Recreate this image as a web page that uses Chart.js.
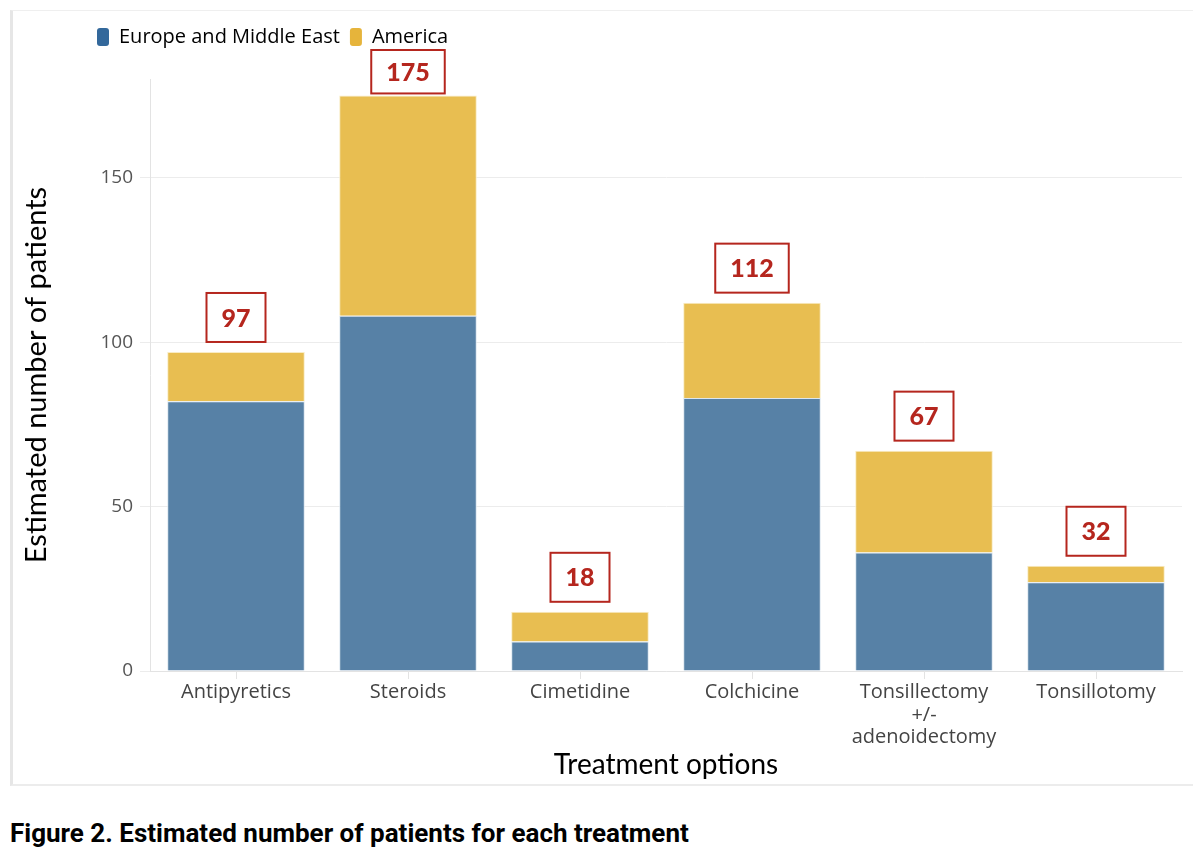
<!DOCTYPE html>
<html>
<head>
<meta charset="utf-8">
<script src="https://cdn.jsdelivr.net/npm/chart.js@4.4.1/dist/chart.umd.min.js"></script>
<style>
  body { margin: 0; background: #fff; width: 1193px; height: 860px; position: relative; overflow: hidden; }
  .frame { position: absolute; left: 10px; top: 10px; width: 1183px; height: 776px;
           border-left: 3px solid #e6e6e6; border-top: 1px solid #efefef; border-bottom: 2px solid #ececec; box-sizing: border-box; }
  #chart-wrap { position: absolute; left: 0; top: 0; width: 1193px; height: 790px; }
  .caption { position: absolute; left: 10px; top: 818px; font-family: Roboto, sans-serif; font-weight: 700;
             font-size: 26px; color: #000; white-space: nowrap; }
</style>
</head>
<body>
<div class="frame"></div>
<div id="chart-wrap"><canvas id="barChart" width="1193" height="790"></canvas></div>
<div class="caption">Figure 2. Estimated number of patients for each treatment</div>

<script>
const treatments = ["Antipyretics", "Steroids", "Cimetidine", "Colchicine", ["Tonsillectomy", "+/-", "adenoidectomy"], "Tonsillotomy"];
const europeMiddleEast = [82, 108, 9, 83, 36, 27];
const america = [15, 67, 9, 29, 31, 5];
const totals = [97, 175, 18, 112, 67, 32];
const yTicks = [0, 50, 100, 150];

const legendColors = ["#33689b", "#e6b43b"];

// red boxed totals above each stack
const totalBoxes = {
  id: 'totalBoxes',
  afterDatasetsDraw(chart) {
    const ctx = chart.ctx;
    const xs = chart.scales.x;
    const ys = chart.scales.y;
    ctx.save();
    ctx.font = '900 25px Lato';
    ctx.textAlign = 'center';
    ctx.textBaseline = 'middle';
    totals.forEach((t, i) => {
      const x = xs.getPixelForValue(i);
      const barTop = ys.getPixelForValue(t);
      const txt = String(t);
      const w = Math.max(58, ctx.measureText(txt).width + 30);
      let bottom = barTop - 10;
      let top = bottom - 49;
      if (top < 50) { top = 50; bottom = barTop - 2; }
      ctx.fillStyle = '#fff';
      ctx.fillRect(x - w / 2, top, w, bottom - top);
      ctx.strokeStyle = '#b5261e';
      ctx.lineWidth = 2;
      ctx.strokeRect(x - w / 2, top, w, bottom - top);
      ctx.fillStyle = '#b5261e';
      ctx.fillText(txt, x, (top + bottom) / 2 + 1);
    });
    ctx.restore();
  }
};

// push the legend items right and leave room under it
const legendShift = {
  id: 'legendShift',
  beforeInit(chart) {
    const fit = chart.legend.fit;
    chart.legend.fit = function () {
      fit.bind(chart.legend)();
      this.height += 22;
    };
  },
  afterLayout(chart) {
    chart.legend.left = 87;
  }
};

const ctx = document.getElementById('barChart').getContext('2d');
new Chart(ctx, {
  type: 'bar',
  data: {
    labels: treatments,
    datasets: [{
      label: 'Europe and Middle East',
      data: europeMiddleEast,
      backgroundColor: '#5781a6',
      borderColor: '#dbe6ef',
      borderWidth: 1,
      barPercentage: 0.8,
      categoryPercentage: 1.0
    }, {
      label: 'America',
      data: america,
      backgroundColor: '#e8be51',
      borderColor: '#f9ecc4',
      borderWidth: 1,
      barPercentage: 0.8,
      categoryPercentage: 1.0
    }]
  },
  options: {
    responsive: false,
    animation: false,
    layout: { padding: { top: 17, left: 0, right: 11, bottom: 0 } },
    plugins: {
      legend: {
        position: 'top',
        align: 'start',
        labels: {
          font: { family: 'Open Sans', size: 20 },
          color: '#444',
          boxWidth: 12,
          boxHeight: 18,
          useBorderRadius: true,
          borderRadius: 3,
          padding: 10,
          generateLabels(chart) {
            return chart.data.datasets.map((ds, i) => ({
              text: ds.label,
              fillStyle: legendColors[i],
              strokeStyle: legendColors[i],
              lineWidth: 0,
              borderRadius: 3,
              datasetIndex: i,
              hidden: false
            }));
          }
        }
      },
      tooltip: { enabled: false }
    },
    scales: {
      x: {
        stacked: true,
        afterFit(scale) { scale.height = 119; },
        grid: { drawOnChartArea: false, offset: false, tickLength: 8, color: '#e3e3e3' },
        border: { color: '#e3e3e3' },
        ticks: { font: { family: 'Open Sans', size: 20, lineHeight: 1.13 }, color: '#444', padding: 2, maxRotation: 0, autoSkip: false },
        title: { display: true, text: 'Treatment options', font: { family: 'Lato', size: 28 }, color: '#000', padding: { top: 4, bottom: 8 } }
      },
      y: {
        stacked: true,
        min: 0,
        max: 180,
        afterFit(scale) { scale.width = 150; },
        afterBuildTicks(scale) { scale.ticks = yTicks.map(v => ({ value: v })); },
        grid: { color: '#ececec', tickLength: 10 },
        border: { color: '#e3e3e3' },
        ticks: { font: { family: 'Open Sans', size: 19 }, color: '#555', padding: 7 },
        title: { display: true, text: 'Estimated number of patients', font: { family: 'Lato', size: 29 }, color: '#000', padding: { top: 19, bottom: 4 } }
      }
    }
  },
  plugins: [totalBoxes, legendShift]
});
</script>
</body>
</html>
